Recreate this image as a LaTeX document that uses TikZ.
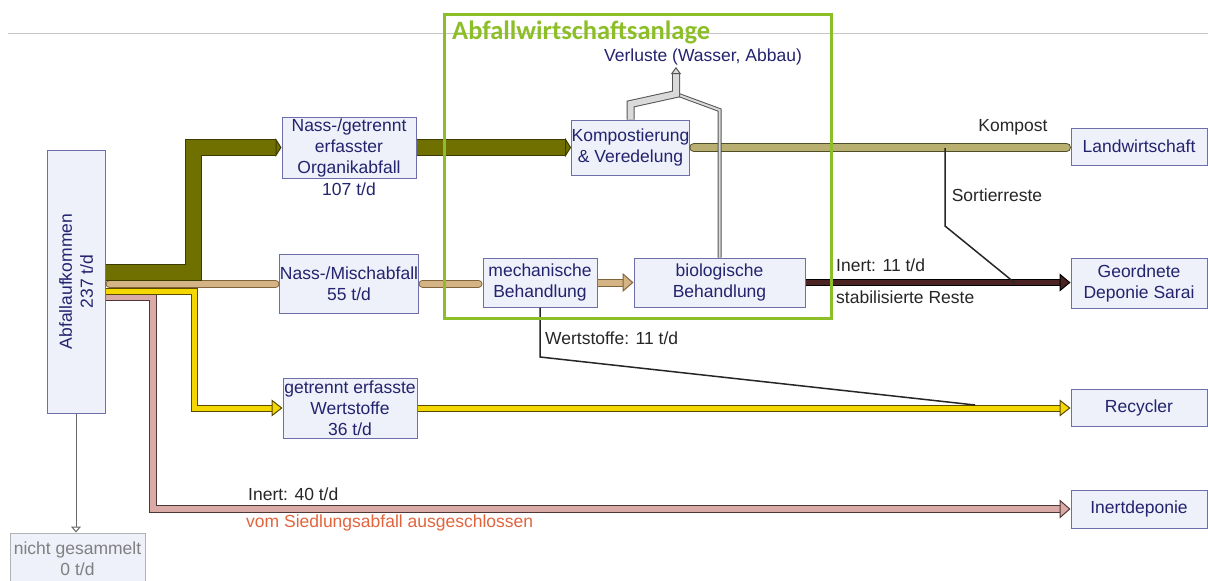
\documentclass[tikz,border=0pt]{standalone}
\usepackage{fontspec}
\setmainfont{Liberation Sans}
\newfontfamily\titlefont{Carlito}
\usetikzlibrary{positioning,arrows.meta}

\definecolor{boxfill}{RGB}{238,240,250}
\definecolor{boxline}{RGB}{110,110,170}
\definecolor{boxtext}{RGB}{35,35,110}
\definecolor{anlagegreen}{RGB}{140,190,40}
\definecolor{olivec}{RGB}{112,112,0}
\definecolor{oliveline}{RGB}{60,60,0}
\definecolor{tanc}{RGB}{212,180,132}
\definecolor{tanline}{RGB}{130,100,60}
\definecolor{yellowc}{RGB}{245,215,0}
\definecolor{yellowline}{RGB}{90,75,0}
\definecolor{pinkc}{RGB}{218,170,166}
\definecolor{pinkline}{RGB}{80,55,55}
\definecolor{kompc}{RGB}{184,175,112}
\definecolor{kompline}{RGB}{80,80,40}
\definecolor{brownc}{RGB}{75,35,35}
\definecolor{greyc}{RGB}{218,218,218}
\definecolor{greyline}{RGB}{85,85,85}
\definecolor{vomorange}{RGB}{226,100,60}

\begin{document}
\begin{tikzpicture}[
			x=1pt, y=-1pt,
			font=\fontsize{17.5}{21}\selectfont,
			% Kasten mit Text
			box/.style={rectangle, draw=boxline, fill=boxfill, line width=1pt, inner sep=0pt, align=center, text=boxtext},
			% freie Beschriftung
			lbl/.style={inner sep=0pt, text=black!85},
			% Rahmen der Anlage
			frame/.style={rectangle, draw=anlagegreen, line width=3pt, inner sep=0pt},
			% Stoffstrom: Fuellfarbe, Randfarbe, Breite
			band/.style n args={3}{draw=#2, line width=1pt, double=#1, double distance=#3},
			thinline/.style={draw=black!85, line width=1.5pt},
			olivetip/.tip={Triangle[width=19pt, length=6pt, fill=olivec, color=oliveline, line width=1pt]},
			tantip/.tip={Triangle[width=19pt, length=11pt, fill=tanc, color=tanline, line width=1pt]},
			yeltip/.tip={Triangle[width=17pt, length=11pt, fill=yellowc, color=yellowline, line width=1pt]},
			pinktip/.tip={Triangle[width=19pt, length=11pt, fill=pinkc, color=pinkline, line width=1pt]},
			browntip/.tip={Triangle[width=18pt, length=11pt, fill=brownc, color=black, line width=1pt]},
			greytip/.tip={Triangle[width=10pt, length=7pt, fill=greyc, color=greyline, line width=1pt]}
		]
		\useasboundingbox (0,0) rectangle (1208,581);
		\draw[gray!45, line width=0.8pt] (8,33) -- (1208,33);

		%Nodes
		% gedreht: south = rechte Seite, west = unten
		\node[box, minimum width=263pt, minimum height=58pt, rotate=90] (abf)   at (76,281.5)   {Abfallaufkommen\\237 t/d};
		\node[box, minimum width=134pt, minimum height=61pt]            (org)   at (349,147.5)  {Nass-/getrennt\\erfasster\\Organikabfall};
		\node[lbl, text=boxtext]                                        (orgmenge) [below=4pt of org] {107 t/d};
		\node[box, minimum width=134pt, minimum height=59pt]            (misch) at (349,283.5)  {Nass-/Mischabfall\\55 t/d};
		\node[box, minimum width=134pt, minimum height=60pt]            (wert)  at (350,408)    {getrennt erfasste\\Wertstoffe\\36 t/d};
		\node[box, minimum width=113pt, minimum height=55pt]            (komp)  at (630.5,147.5) {Kompostierung\\\& Veredelung};
		\node[box, minimum width=114pt, minimum height=49pt]            (mech)  at (540,282.5)  {mechanische\\Behandlung};
		\node[box, minimum width=171pt, minimum height=49pt]            (bio)   at (719.5,282.5) {biologische\\Behandlung};
		\node[box, minimum width=136pt, minimum height=37pt]            (land)  at (1139,146.5) {Landwirtschaft};
		\node[box, minimum width=136pt, minimum height=50pt]            (dep)   at (1139,283)   {Geordnete\\Deponie Sarai};
		\node[box, minimum width=136pt, minimum height=37pt]            (recy)  at (1139,407.5) {Recycler};
		\node[box, minimum width=136pt, minimum height=38pt]            (inert) at (1139,509)   {Inertdeponie};
		\node[box, draw=gray!60, text=gray, minimum width=135pt, minimum height=52pt] (nicht) at (77.5,559) {nicht gesammelt\\0 t/d};

		% Hilfspunkte fuer die Knicke
		\coordinate (sortab)     at (945,148);
		\coordinate (sortknick)  at (945,226);
		\coordinate (sortein)    at (1015,283);
		\coordinate (wertknick)  at (540,357);
		\coordinate (wertein)    at (975,405);
		\coordinate (verlrechts) at (719.5,110);
		\coordinate (verllinks)  at (630.5,104);
		\coordinate (verlmitte)  at (676,94);
		\coordinate (verlspitze) at (676,72);

		%Lines
		\draw[band={pinkc}{pinkline}{6pt}, -{pinktip}]    ([yshift=-15.5pt]abf.south) -- ++(47,0) |- (inert.west);
		\draw[band={yellowc}{yellowline}{5pt}, -{yeltip}] ([yshift=-9.5pt]abf.south) -- ++(89,0) |- (wert.west);
		\draw[band={yellowc}{yellowline}{5pt}, -{yeltip}] (wert.east) -- (wert.east -| recy.west);
		\draw[band={tanc}{tanline}{6pt}, line cap=round, shorten <=4pt, shorten >=4pt] ([yshift=-2.5pt]abf.south) -- ([yshift=-2.5pt]abf.south -| misch.west);
		\draw[band={olivec}{oliveline}{15pt}, -{olivetip}] ([yshift=9.5pt]abf.south) -- ++(88,0) |- (org.west);
		\draw[band={olivec}{oliveline}{15pt}, -{olivetip}] (org.east) -- (komp.west);
		\draw[band={tanc}{tanline}{6pt}, line cap=round, shorten <=4pt, shorten >=4pt] (misch.east) -- (misch.east -| mech.west);
		\draw[band={tanc}{tanline}{6pt}, -{tantip}]       (mech.east) -- (bio.west);
		\draw[band={kompc}{kompline}{7pt}, line cap=round, shorten <=4pt, shorten >=4pt] (komp.east) -- (komp.east -| land.west);
		\draw[band={brownc}{black}{5pt}, -{browntip}]     (bio.east) -- (bio.east -| dep.west);
		% Sortierreste und Wertstoffe
		\draw[thinline] (sortab) -- (sortknick) -- (sortein);
		\draw[thinline] (mech.south) -- (wertknick) -- (wertein);
		% Verluste nach oben
		\draw[band={greyc}{greyline}{2pt}] (bio.north) -- (verlrechts) -- (verlmitte);
		\draw[band={greyc}{greyline}{6pt}, shorten >=-5pt, -{greytip}] (komp.north) -- (verllinks) -- (verlmitte) -- (verlspitze);
		\draw[gray!80!black, line width=1pt, -{Triangle[open, width=10pt, length=6pt]}] (abf.west) -- (abf.west |- nicht.north);

		% Beschriftungen
		\node[lbl]                          (lblverl)   at (703,57)   {\textcolor{boxtext}{Verluste (Wasser, Abbau)}};
		\node[lbl]                          (lblkompost) at (1013,127) {Kompost};
		\node[lbl]                          (lblsort)   at (997,195)  {Sortierreste};
		\node[lbl, anchor=west]             (lblinertelf) at (836,265) {Inert: 11 t/d};
		\node[lbl, anchor=west]             (lblstab)   at (836,297)  {stabilisierte Reste};
		\node[lbl, anchor=west]             (lblwert)   at (545,338)  {Wertstoffe: 11 t/d};
		\node[lbl, anchor=west]             (lblinertvierzig) at (248,494) {Inert: 40 t/d};
		\node[lbl, anchor=west, text=vomorange] (lblvom) at (246,523)  {vom Siedlungsabfall ausgeschlossen};

		% Rahmen Abfallwirtschaftsanlage
		\node[frame, minimum width=387pt, minimum height=304pt] (anlage) at (637.5,166) {};
		\node[inner sep=0pt, anchor=base west, text=anlagegreen, font=\titlefont\bfseries\fontsize{26.5}{30}\selectfont] (anlagetitel) at (452,39) {Abfallwirtschaftsanlage};
	\end{tikzpicture}
\end{document}
